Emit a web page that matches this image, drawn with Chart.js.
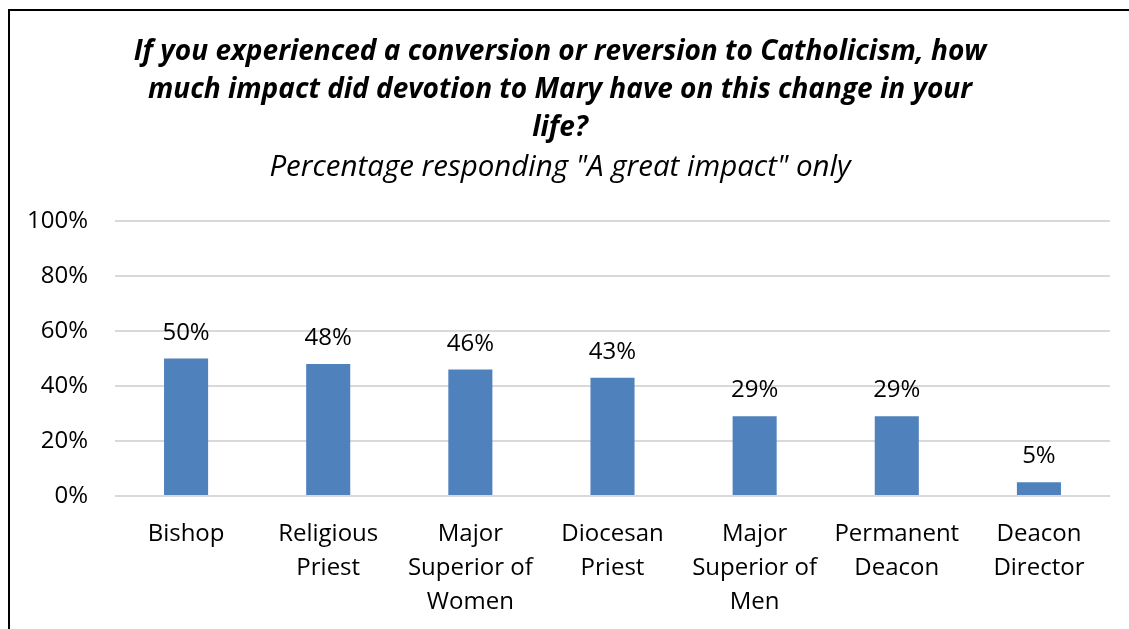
<!DOCTYPE html>
<html>
<head>
<meta charset="utf-8">
<script src="https://cdn.jsdelivr.net/npm/chart.js@4"></script>
<style>
  html, body { margin: 0; padding: 0; background: #fff; overflow: hidden; }
  #box { position: absolute; left: 8px; top: 9px; width: 1126px; height: 640px; border: 2px solid #000; border-right: none; background: #fff; }
</style>
</head>
<body>
<div id="box"><canvas id="myChart"></canvas></div>
<script>
let categories = [['Bishop'], ['Religious', 'Priest'], ['Major', 'Superior of', 'Women'], ['Diocesan', 'Priest'], ['Major', 'Superior of', 'Men'], ['Permanent', 'Deacon'], ['Deacon', 'Director']];
let greatImpact = [50, 48, 46, 43, 29, 29, 5];
let tickValues = [0, 20, 40, 60, 80, 100];

let fontName = "'Open Sans', Lato, sans-serif";

// value labels above bars
let barLabels = {
  id: 'barLabels',
  afterDatasetsDraw(chart) {
    let ctx = chart.ctx;
    let meta = chart.getDatasetMeta(0);
    ctx.save();
    ctx.font = '24px ' + fontName;
    ctx.fillStyle = '#000';
    ctx.textAlign = 'center';
    ctx.textBaseline = 'alphabetic';
    meta.data.forEach((bar, i) => {
      ctx.fillText(greatImpact[i] + '%', bar.x, bar.y - 19);
    });
    ctx.restore();
  }
};

let ctx = document.getElementById('myChart').getContext('2d');
let myChart = new Chart(ctx, {
  type: 'bar',
  data: {
    labels: categories,
    datasets: [{
      data: greatImpact,
      backgroundColor: '#4F81BD',
      barPercentage: 0.31,
      categoryPercentage: 1
    }]
  },
  options: {
    responsive: true,
    maintainAspectRatio: false,
    animation: false,
    layout: { padding: { top: 0, right: 26, bottom: 0, left: 0 } },
    plugins: {
      legend: { display: false },
      tooltip: { enabled: false },
      title: {
        display: true,
        text: ['If you experienced a conversion or reversion to Catholicism, how', 'much impact did devotion to Mary have on this change in your', 'life?'],
        color: '#000',
        font: { family: fontName, size: 28, weight: 'bold', style: 'italic', lineHeight: '38px' },
        padding: { top: 22, bottom: 3 }
      },
      subtitle: {
        display: true,
        text: 'Percentage responding "A great impact" only',
        color: '#000',
        font: { family: fontName, size: 29.5, style: 'italic', lineHeight: '36px' },
        padding: { top: 0, bottom: 35 }
      }
    },
    scales: {
      x: {
        grid: { display: false, drawTicks: false },
        border: { display: false },
        ticks: {
          color: '#000',
          font: { family: fontName, size: 24, lineHeight: '34px' },
          padding: 21,
          maxRotation: 0,
          autoSkip: false
        },
        afterFit(scale) { scale.height = 155; }
      },
      y: {
        min: 0,
        max: 100,
        afterBuildTicks(scale) { scale.ticks = tickValues.map(v => ({ value: v })); },
        grid: { color: '#D9D9D9', lineWidth: 2, drawTicks: false },
        border: { display: false },
        ticks: {
          color: '#000',
          font: { family: fontName, size: 24 },
          padding: 27,
          callback: v => v + '%'
        },
        afterFit(scale) { scale.width = 105; }
      }
    }
  },
  plugins: [barLabels]
});
</script>
</body>
</html>
